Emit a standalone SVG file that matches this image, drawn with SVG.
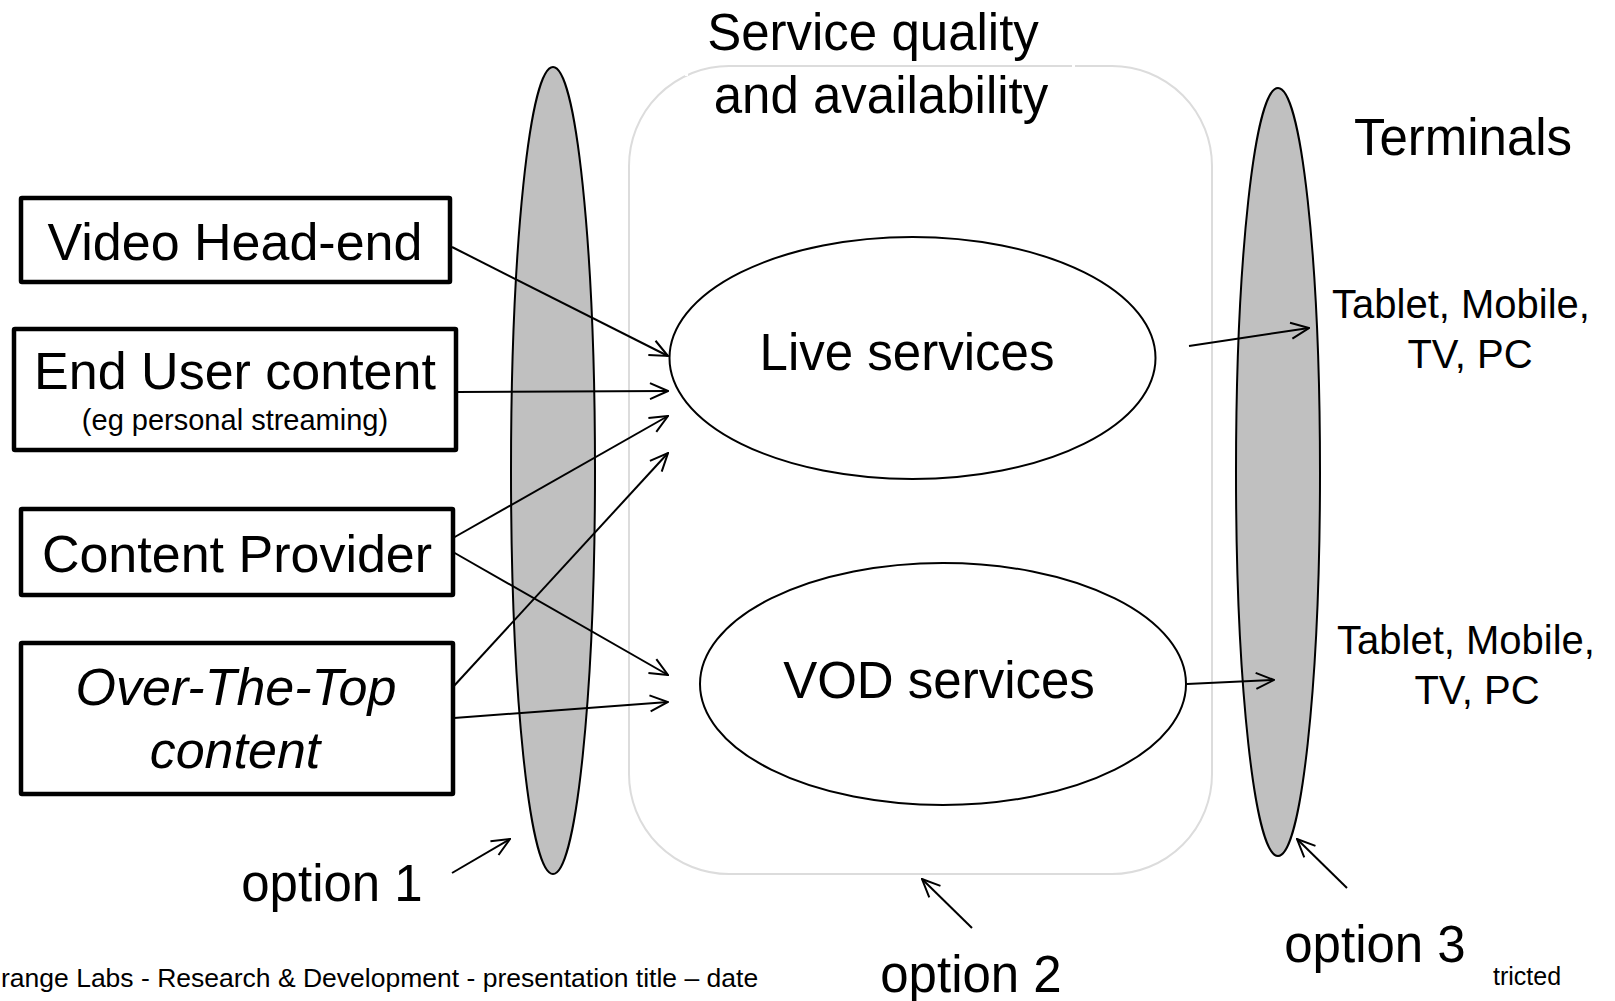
<svg xmlns="http://www.w3.org/2000/svg" width="1615" height="1001" viewBox="0 0 1615 1001">
  <style>
    text { font-family: "Liberation Sans", Arial, sans-serif; fill: #000; }
    .big { font-size: 51px; }
    .box { font-size: 52px; }
    .mid { font-size: 40px; }
    .small { font-size: 29px; }
    .foot { font-size: 26.5px; }
    .src { fill: #fff; stroke: #000; stroke-width: 4.5; }
    .lens { fill: #c0c0c0; stroke: #000; stroke-width: 2; }
    .svc { fill: #fff; stroke: #000; stroke-width: 2; }
    .conn line { stroke: #000; stroke-width: 2; marker-end: url(#open); }
  </style>
  <defs>
    <marker id="open" markerUnits="userSpaceOnUse" viewBox="0 0 20 20" markerWidth="20" markerHeight="20" refX="19" refY="10" orient="auto">
      <path d="M1,2 L19,10 L1,18" fill="none" stroke="#000" stroke-width="2"/>
    </marker>
  </defs>

  <rect width="1615" height="1001" fill="#fff"/>

  <!-- service quality and availability frame -->
  <g id="service-frame">
    <rect x="629" y="66" width="583" height="808" rx="100" ry="100" fill="none" stroke="#dcdcdc" stroke-width="2"/>
    <rect x="685" y="68" width="3" height="8" fill="#fff"/>
    <rect x="1072" y="63" width="3" height="6" fill="#fff"/>
    <text class="big" x="873" y="50" text-anchor="middle">Service quality</text>
    <text class="big" x="881" y="113" text-anchor="middle">and availability</text>
  </g>

  <!-- option 1 lens -->
  <g id="option1-lens">
    <ellipse class="lens" cx="553" cy="470.5" rx="42" ry="403.5"/>
  </g>

  <!-- terminals lens -->
  <g id="terminals-lens">
    <ellipse class="lens" cx="1278" cy="472" rx="42" ry="384"/>
  </g>

  <!-- sources -->
  <g id="video-head-end">
    <rect class="src" x="21" y="198" width="429" height="84" rx="1"/>
    <text class="box" x="235" y="260" text-anchor="middle">Video Head-end</text>
  </g>
  <g id="end-user-content">
    <rect class="src" x="14" y="329" width="442" height="121" rx="1"/>
    <text class="box" x="235" y="389" text-anchor="middle">End User content</text>
    <text class="small" x="235" y="430" text-anchor="middle">(eg personal streaming)</text>
  </g>
  <g id="content-provider">
    <rect class="src" x="21" y="509" width="432" height="86" rx="1"/>
    <text class="box" x="237" y="572" text-anchor="middle">Content Provider</text>
  </g>
  <g id="over-the-top">
    <rect class="src" x="21" y="643" width="432" height="151" rx="1"/>
    <text class="box" x="236" y="705" text-anchor="middle" font-style="italic">Over-The-Top</text>
    <text class="box" x="235" y="768" text-anchor="middle" font-style="italic">content</text>
  </g>

  <!-- services -->
  <g id="live-services">
    <ellipse class="svc" cx="912.5" cy="358" rx="243" ry="121"/>
    <text class="big" x="907" y="370" text-anchor="middle">Live services</text>
  </g>
  <g id="vod-services">
    <ellipse class="svc" cx="943" cy="684" rx="243" ry="121"/>
    <text class="big" x="939" y="698" text-anchor="middle">VOD services</text>
  </g>

  <!-- terminal labels -->
  <g id="terminals">
    <text class="big" x="1463" y="155" text-anchor="middle">Terminals</text>
  </g>
  <g id="terminals-live">
    <text class="mid" x="1461" y="318" text-anchor="middle">Tablet, Mobile,</text>
    <text class="mid" x="1470" y="368" text-anchor="middle">TV, PC</text>
  </g>
  <g id="terminals-vod">
    <text class="mid" x="1466" y="654" text-anchor="middle">Tablet, Mobile,</text>
    <text class="mid" x="1477" y="704" text-anchor="middle">TV, PC</text>
  </g>

  <!-- option labels -->
  <g id="option1"><text class="big" x="332" y="901" text-anchor="middle">option 1</text></g>
  <g id="option2"><text class="big" x="971" y="992" text-anchor="middle">option 2</text></g>
  <g id="option3"><text class="big" x="1375" y="962" text-anchor="middle">option 3</text></g>

  <!-- connectors -->
  <g class="conn" id="connectors">
    <line x1="452" y1="247" x2="668" y2="356"/>
    <line x1="457" y1="392" x2="668" y2="391"/>
    <line x1="453" y1="538" x2="668" y2="416"/>
    <line x1="453" y1="687" x2="668" y2="453"/>
    <line x1="453" y1="552" x2="668" y2="675"/>
    <line x1="454" y1="718" x2="668" y2="702"/>
    <line x1="1189" y1="346" x2="1309" y2="328"/>
    <line x1="1187" y1="684" x2="1274" y2="680"/>
    <line x1="452" y1="873" x2="510" y2="839"/>
    <line x1="972" y1="928" x2="922" y2="879"/>
    <line x1="1347" y1="888" x2="1297" y2="839"/>
  </g>

  <!-- footer -->
  <text class="foot" x="1" y="987">range Labs - Research &amp; Development - presentation title – date</text>
  <text x="1493" y="985" font-size="25">tricted</text>
</svg>
